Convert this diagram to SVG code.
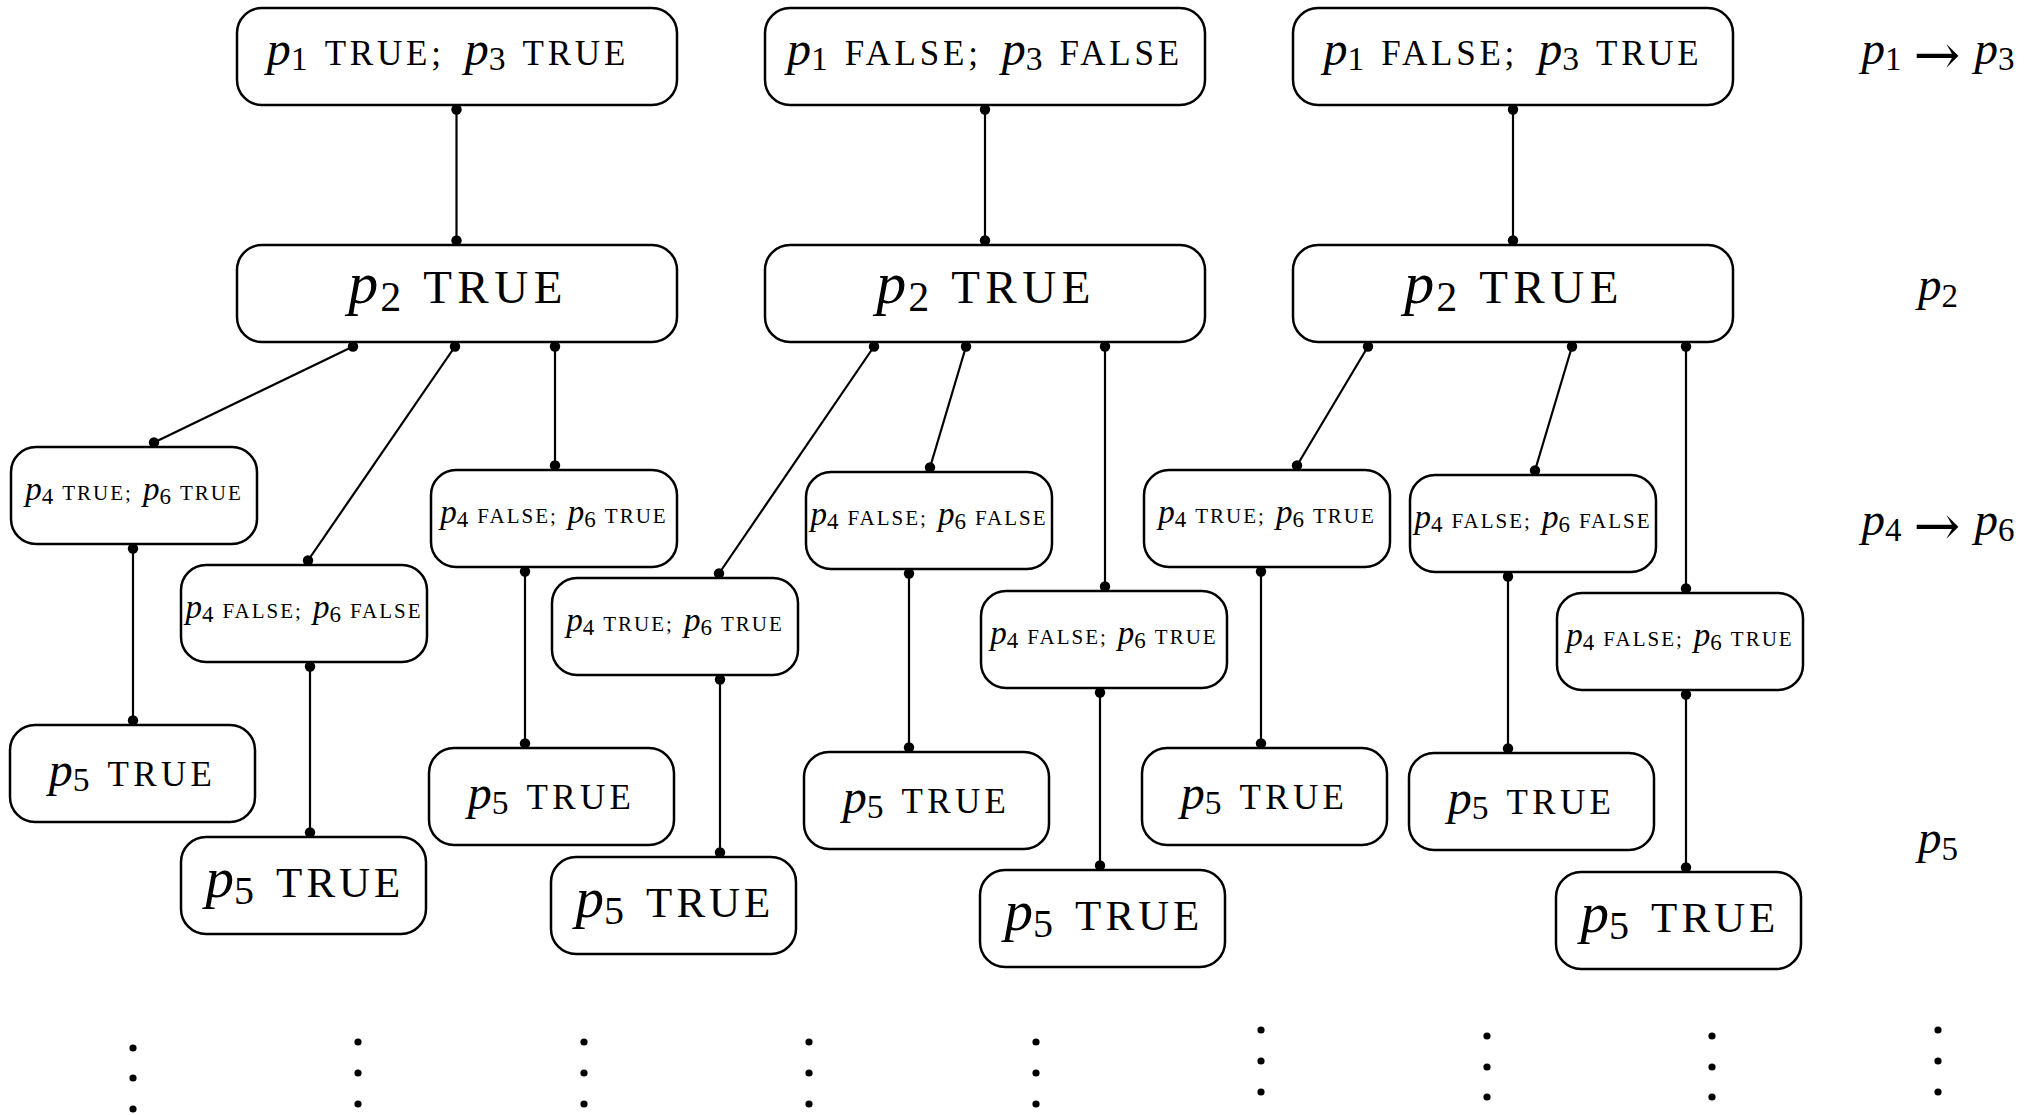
<svg xmlns="http://www.w3.org/2000/svg" width="2043" height="1115" viewBox="0 0 2043 1115" font-family="Liberation Serif, serif">
<style>
text{font-family:"Liberation Serif",serif;fill:#000}
.box{fill:#fff;stroke:#000;stroke-width:2.5}
.edge{fill:none;stroke:#000;stroke-width:2.2}
.mA{font-style:italic;font-size:48px}.sA{font-size:33.6px}.cA{font-size:35px;letter-spacing:3.8px}
.mB{font-style:italic;font-size:60px}.sB{font-size:42px}.cB{font-size:47px;letter-spacing:5.5px}
.mC{font-style:italic;font-size:33px}.sC{font-size:23px}.cC{font-size:21px;letter-spacing:2px}
.mM{font-style:italic;font-size:48px}.sM{font-size:33.6px}.cM{font-size:35px;letter-spacing:4.3px}
.mL{font-style:italic;font-size:57px}.sL{font-size:40px}.cL{font-size:43px;letter-spacing:4px}
.mR{font-style:italic;font-size:47px}.sR{font-size:33px}
.ar{font-family:"DejaVu Serif",serif;font-size:56px}
.vd{fill:#000}
</style>
<defs>
<marker id="dot" viewBox="-7 -7 14 14" markerWidth="14" markerHeight="14" markerUnits="userSpaceOnUse" refX="0" refY="0" overflow="visible"><circle r="5.2" fill="#000"/></marker>
</defs>

<g id="connectors" class="edge" marker-start="url(#dot)" marker-end="url(#dot)">
<path d="M456.5 109.5V240.5"/>
<path d="M353 346.5L154 442.5"/>
<path d="M455 346.5L308 560.5"/>
<path d="M555 346.5V465.5"/>
<path d="M133 548.5V720.5"/>
<path d="M310 666.5V832.5"/>
<path d="M525 571.5V743.5"/>
<path d="M985 109.5V240.5"/>
<path d="M874 346.5L719 573.5"/>
<path d="M966 346.5L930 467.5"/>
<path d="M1105 346.5V586.5"/>
<path d="M720 679.5V852.5"/>
<path d="M909 573.5V747.5"/>
<path d="M1100 692.5V865.5"/>
<path d="M1513 109.5V240.5"/>
<path d="M1368 346.5L1297 465.5"/>
<path d="M1572 346.5L1535 470.5"/>
<path d="M1686 346.5V588.5"/>
<path d="M1261 571.5V743.5"/>
<path d="M1508 576.5V748.5"/>
<path d="M1686 694.5V867.5"/>
</g>

<g id="top1"><rect class="box" x="237" y="8" width="440" height="97" rx="25"/>
<text x="448" y="65" text-anchor="middle"><tspan class="mA">p</tspan><tspan class="sA" dy="5">1</tspan><tspan class="cA" dy="-5" dx="17">TRUE;</tspan><tspan class="mA" dx="20">p</tspan><tspan class="sA" dy="5">3</tspan><tspan class="cA" dy="-5" dx="17">TRUE</tspan></text></g>
<g id="top2"><rect class="box" x="765" y="8" width="440" height="97" rx="25"/>
<text x="985" y="65" text-anchor="middle"><tspan class="mA">p</tspan><tspan class="sA" dy="5">1</tspan><tspan class="cA" dy="-5" dx="17">FALSE;</tspan><tspan class="mA" dx="20">p</tspan><tspan class="sA" dy="5">3</tspan><tspan class="cA" dy="-5" dx="17">FALSE</tspan></text></g>
<g id="top3"><rect class="box" x="1293" y="8" width="440" height="97" rx="25"/>
<text x="1513" y="65" text-anchor="middle"><tspan class="mA">p</tspan><tspan class="sA" dy="5">1</tspan><tspan class="cA" dy="-5" dx="17">FALSE;</tspan><tspan class="mA" dx="20">p</tspan><tspan class="sA" dy="5">3</tspan><tspan class="cA" dy="-5" dx="17">TRUE</tspan></text></g>

<g id="p2a"><rect class="box" x="237" y="245" width="440" height="97" rx="25"/>
<text x="458" y="303" text-anchor="middle"><tspan class="mB">p</tspan><tspan class="sB" dy="8" dx="2">2</tspan><tspan class="cB" dy="-8" dx="22">TRUE</tspan></text></g>
<g id="p2b"><rect class="box" x="765" y="245" width="440" height="97" rx="25"/>
<text x="986" y="303" text-anchor="middle"><tspan class="mB">p</tspan><tspan class="sB" dy="8" dx="2">2</tspan><tspan class="cB" dy="-8" dx="22">TRUE</tspan></text></g>
<g id="p2c"><rect class="box" x="1293" y="245" width="440" height="97" rx="25"/>
<text x="1514" y="303" text-anchor="middle"><tspan class="mB">p</tspan><tspan class="sB" dy="8" dx="2">2</tspan><tspan class="cB" dy="-8" dx="22">TRUE</tspan></text></g>

<g id="n4a"><rect class="box" x="11" y="447" width="246" height="97" rx="25"/>
<text x="134" y="500" text-anchor="middle"><tspan class="mC">p</tspan><tspan class="sC" dy="4">4</tspan><tspan class="cC" dy="-4" dx="9">TRUE;</tspan><tspan class="mC" dx="10">p</tspan><tspan class="sC" dy="4">6</tspan><tspan class="cC" dy="-4" dx="9">TRUE</tspan></text></g>
<g id="n4b"><rect class="box" x="181" y="565" width="246" height="97" rx="25"/>
<text x="304" y="618" text-anchor="middle"><tspan class="mC">p</tspan><tspan class="sC" dy="4">4</tspan><tspan class="cC" dy="-4" dx="9">FALSE;</tspan><tspan class="mC" dx="10">p</tspan><tspan class="sC" dy="4">6</tspan><tspan class="cC" dy="-4" dx="9">FALSE</tspan></text></g>
<g id="n4c"><rect class="box" x="431" y="470" width="246" height="97" rx="25"/>
<text x="554" y="523" text-anchor="middle"><tspan class="mC">p</tspan><tspan class="sC" dy="4">4</tspan><tspan class="cC" dy="-4" dx="9">FALSE;</tspan><tspan class="mC" dx="10">p</tspan><tspan class="sC" dy="4">6</tspan><tspan class="cC" dy="-4" dx="9">TRUE</tspan></text></g>
<g id="n4d"><rect class="box" x="552" y="578" width="246" height="97" rx="25"/>
<text x="675" y="631" text-anchor="middle"><tspan class="mC">p</tspan><tspan class="sC" dy="4">4</tspan><tspan class="cC" dy="-4" dx="9">TRUE;</tspan><tspan class="mC" dx="10">p</tspan><tspan class="sC" dy="4">6</tspan><tspan class="cC" dy="-4" dx="9">TRUE</tspan></text></g>
<g id="n4e"><rect class="box" x="806" y="472" width="246" height="97" rx="25"/>
<text x="929" y="525" text-anchor="middle"><tspan class="mC">p</tspan><tspan class="sC" dy="4">4</tspan><tspan class="cC" dy="-4" dx="9">FALSE;</tspan><tspan class="mC" dx="10">p</tspan><tspan class="sC" dy="4">6</tspan><tspan class="cC" dy="-4" dx="9">FALSE</tspan></text></g>
<g id="n4f"><rect class="box" x="981" y="591" width="246" height="97" rx="25"/>
<text x="1104" y="644" text-anchor="middle"><tspan class="mC">p</tspan><tspan class="sC" dy="4">4</tspan><tspan class="cC" dy="-4" dx="9">FALSE;</tspan><tspan class="mC" dx="10">p</tspan><tspan class="sC" dy="4">6</tspan><tspan class="cC" dy="-4" dx="9">TRUE</tspan></text></g>
<g id="n4g"><rect class="box" x="1144" y="470" width="246" height="97" rx="25"/>
<text x="1267" y="523" text-anchor="middle"><tspan class="mC">p</tspan><tspan class="sC" dy="4">4</tspan><tspan class="cC" dy="-4" dx="9">TRUE;</tspan><tspan class="mC" dx="10">p</tspan><tspan class="sC" dy="4">6</tspan><tspan class="cC" dy="-4" dx="9">TRUE</tspan></text></g>
<g id="n4h"><rect class="box" x="1410" y="475" width="246" height="97" rx="25"/>
<text x="1533" y="528" text-anchor="middle"><tspan class="mC">p</tspan><tspan class="sC" dy="4">4</tspan><tspan class="cC" dy="-4" dx="9">FALSE;</tspan><tspan class="mC" dx="10">p</tspan><tspan class="sC" dy="4">6</tspan><tspan class="cC" dy="-4" dx="9">FALSE</tspan></text></g>
<g id="n4i"><rect class="box" x="1557" y="593" width="246" height="97" rx="25"/>
<text x="1680" y="646" text-anchor="middle"><tspan class="mC">p</tspan><tspan class="sC" dy="4">4</tspan><tspan class="cC" dy="-4" dx="9">FALSE;</tspan><tspan class="mC" dx="10">p</tspan><tspan class="sC" dy="4">6</tspan><tspan class="cC" dy="-4" dx="9">TRUE</tspan></text></g>

<g id="n5a"><rect class="box" x="10" y="725" width="245" height="97" rx="25"/>
<text x="132.5" y="786" text-anchor="middle"><tspan class="mM">p</tspan><tspan class="sM" dy="5">5</tspan><tspan class="cM" dy="-5" dx="18">TRUE</tspan></text></g>
<g id="n5b"><rect class="box" x="181" y="837" width="245" height="97" rx="25"/>
<text x="305" y="897" text-anchor="middle"><tspan class="mL">p</tspan><tspan class="sL" dy="7">5</tspan><tspan class="cL" dy="-7" dx="22">TRUE</tspan></text></g>
<g id="n5c"><rect class="box" x="429" y="748" width="245" height="97" rx="25"/>
<text x="551.5" y="809" text-anchor="middle"><tspan class="mM">p</tspan><tspan class="sM" dy="5">5</tspan><tspan class="cM" dy="-5" dx="18">TRUE</tspan></text></g>
<g id="n5d"><rect class="box" x="551" y="857" width="245" height="97" rx="25"/>
<text x="675" y="917" text-anchor="middle"><tspan class="mL">p</tspan><tspan class="sL" dy="7">5</tspan><tspan class="cL" dy="-7" dx="22">TRUE</tspan></text></g>
<g id="n5e"><rect class="box" x="804" y="752" width="245" height="97" rx="25"/>
<text x="926.5" y="813" text-anchor="middle"><tspan class="mM">p</tspan><tspan class="sM" dy="5">5</tspan><tspan class="cM" dy="-5" dx="18">TRUE</tspan></text></g>
<g id="n5f"><rect class="box" x="980" y="870" width="245" height="97" rx="25"/>
<text x="1104" y="930" text-anchor="middle"><tspan class="mL">p</tspan><tspan class="sL" dy="7">5</tspan><tspan class="cL" dy="-7" dx="22">TRUE</tspan></text></g>
<g id="n5g"><rect class="box" x="1142" y="748" width="245" height="97" rx="25"/>
<text x="1264.5" y="809" text-anchor="middle"><tspan class="mM">p</tspan><tspan class="sM" dy="5">5</tspan><tspan class="cM" dy="-5" dx="18">TRUE</tspan></text></g>
<g id="n5h"><rect class="box" x="1409" y="753" width="245" height="97" rx="25"/>
<text x="1531.5" y="814" text-anchor="middle"><tspan class="mM">p</tspan><tspan class="sM" dy="5">5</tspan><tspan class="cM" dy="-5" dx="18">TRUE</tspan></text></g>
<g id="n5i"><rect class="box" x="1556" y="872" width="245" height="97" rx="25"/>
<text x="1680" y="932" text-anchor="middle"><tspan class="mL">p</tspan><tspan class="sL" dy="7">5</tspan><tspan class="cL" dy="-7" dx="22">TRUE</tspan></text></g>

<g id="level-labels">
<text x="1938" y="64" text-anchor="middle"><tspan class="mR">p</tspan><tspan class="sR" dy="6">1</tspan><tspan class="ar" dy="4" dx="12">→</tspan><tspan class="mR" dy="-10" dx="14">p</tspan><tspan class="sR" dy="6">3</tspan></text>
<text x="1938" y="300" text-anchor="middle"><tspan class="mR">p</tspan><tspan class="sR" dy="7">2</tspan></text>
<text x="1938" y="535" text-anchor="middle"><tspan class="mR">p</tspan><tspan class="sR" dy="6">4</tspan><tspan class="ar" dy="4" dx="12">→</tspan><tspan class="mR" dy="-10" dx="14">p</tspan><tspan class="sR" dy="6">6</tspan></text>
<text x="1938" y="853" text-anchor="middle"><tspan class="mR">p</tspan><tspan class="sR" dy="7">5</tspan></text>
</g>

<g id="continuation-dots" class="vd">
<circle cx="133" cy="1048" r="3.6"/><circle cx="133" cy="1078" r="3.6"/><circle cx="133" cy="1109" r="3.6"/>
<circle cx="358" cy="1042" r="3.6"/><circle cx="358" cy="1073" r="3.6"/><circle cx="358" cy="1104" r="3.6"/>
<circle cx="584" cy="1042" r="3.6"/><circle cx="584" cy="1073" r="3.6"/><circle cx="584" cy="1104" r="3.6"/>
<circle cx="809" cy="1042" r="3.6"/><circle cx="809" cy="1073" r="3.6"/><circle cx="809" cy="1104" r="3.6"/>
<circle cx="1036" cy="1042" r="3.6"/><circle cx="1036" cy="1073" r="3.6"/><circle cx="1036" cy="1104" r="3.6"/>
<circle cx="1261" cy="1030" r="3.6"/><circle cx="1261" cy="1061" r="3.6"/><circle cx="1261" cy="1092" r="3.6"/>
<circle cx="1487" cy="1036" r="3.6"/><circle cx="1487" cy="1067" r="3.6"/><circle cx="1487" cy="1097" r="3.6"/>
<circle cx="1712" cy="1036" r="3.6"/><circle cx="1712" cy="1067" r="3.6"/><circle cx="1712" cy="1097" r="3.6"/>
<circle cx="1938" cy="1030" r="3.6"/><circle cx="1938" cy="1061" r="3.6"/><circle cx="1938" cy="1092" r="3.6"/>
</g>
</svg>
